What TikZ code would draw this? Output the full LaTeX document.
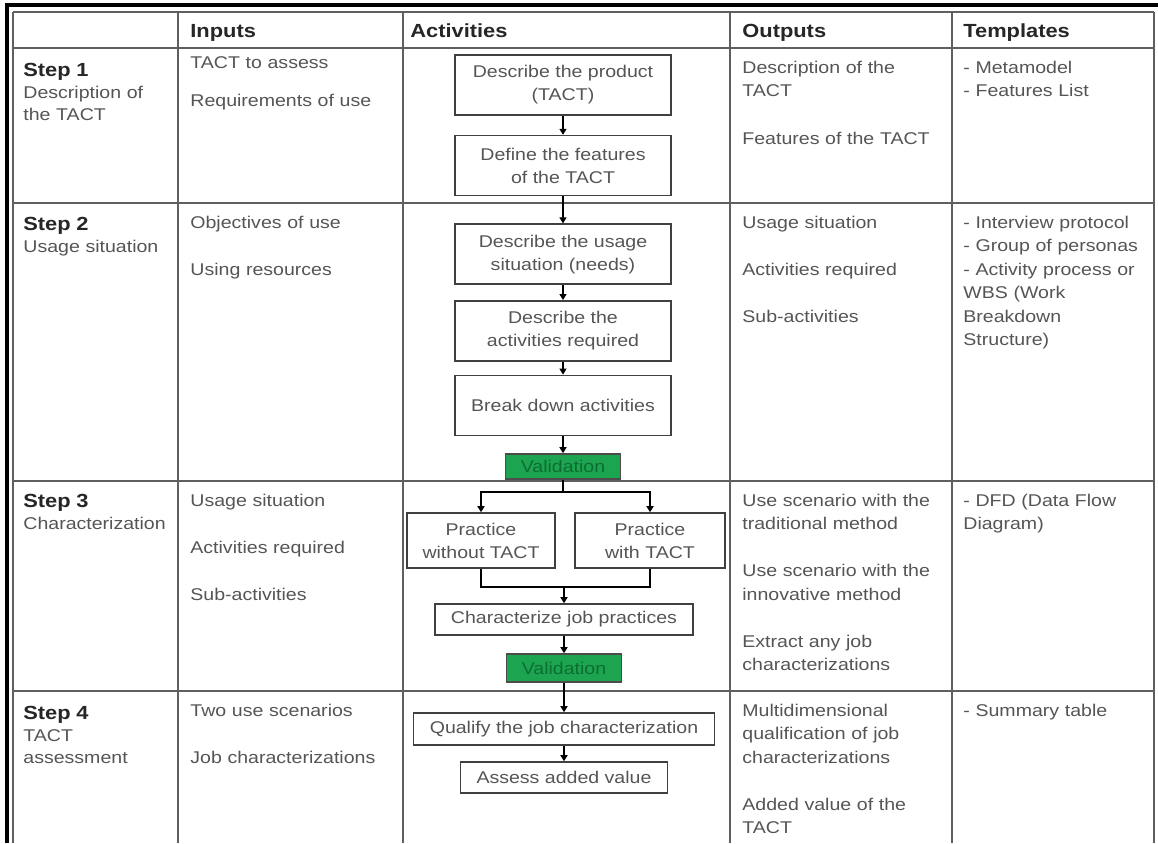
\documentclass[tikz,border=0pt]{standalone}
\usepackage{fontspec}
\setmainfont{Liberation Sans}[FakeStretch=1.15]
\usetikzlibrary{arrows.meta, positioning}

\definecolor{gridgray}{RGB}{95,95,95}
\definecolor{txtgray}{RGB}{85,85,85}
\definecolor{valgreen}{RGB}{28,164,80}
\definecolor{valtext}{RGB}{12,110,48}

\begin{document}
\begin{tikzpicture}[x=0.5pt, y=-0.5pt, node distance=9.5pt,
        grid/.style={gridgray, line width=1pt},
        frame/.style={black, line width=1.6pt},
        head/.style={anchor=base west, inner sep=0pt, text=black!85, font=\fontsize{9.5}{11}\selectfont\bfseries},
        steplbl/.style={anchor=base west, inner sep=0pt, text width=75pt, align=left, text=txtgray, font=\fontsize{8.5}{11}\selectfont},
        cell/.style={anchor=base west, inner sep=0pt, text width=110pt, align=left, text=txtgray, font=\fontsize{8.5}{11.75}\selectfont},
        actbox/.style={draw=black!75, line width=0.8pt, fill=white, text=txtgray, align=center, inner sep=2pt, minimum width=108pt, minimum height=30pt, font=\fontsize{8.5}{11.5}\selectfont},
        valbox/.style={draw=black!70, line width=0.8pt, fill=valgreen, text=valtext, inner sep=1pt, minimum width=57.5pt, font=\fontsize{8.5}{10}\selectfont},
        flow/.style={-{Triangle[length=3pt, width=3.5pt]}, line width=0.7pt},
        link/.style={line width=0.7pt}]

    \fill[white] (0,0) rectangle (1158,843);
    \useasboundingbox (0,0) rectangle (1158,843);

    % Table grid
    \foreach \x in {13,178,403,730,952,1154}
        \draw[grid] (\x,12) -- (\x,843);
    \foreach \y in {12,48,203,481,691}
        \draw[grid] (13,\y) -- (1154,\y);
    \draw[frame] (7,843) -- (7,5) -- (1158,5);

    % Header row
    \node[head] (hin) at (190,37) {Inputs};
    \node[head] (hact) at (410,37) {Activities};
    \node[head] (hout) at (742,37) {Outputs};
    \node[head] (htpl) at (963,37) {Templates};

    % Steps
    \node[steplbl] (step1) at (23,76) {{\fontsize{9.5}{11}\selectfont\bfseries\color{black!85}Step 1}\\Description of\\the TACT};
    \node[steplbl] (step2) at (23,230) {{\fontsize{9.5}{11}\selectfont\bfseries\color{black!85}Step 2}\\Usage situation};
    \node[steplbl] (step3) at (23,507) {{\fontsize{9.5}{11}\selectfont\bfseries\color{black!85}Step 3}\\Characterization};
    \node[steplbl] (step4) at (23,719) {{\fontsize{9.5}{11}\selectfont\bfseries\color{black!85}Step 4}\\TACT\\assessment};

    % Inputs
    \node[cell] (in1) at (190,68) {TACT to assess\\[7.25pt]Requirements of use};
    \node[cell] (in2) at (190,228) {Objectives of use\\[12pt]Using resources};
    \node[cell] (in3) at (190,506) {Usage situation\\[11.75pt]Activities required\\[11.75pt]Sub-activities};
    \node[cell] (in4) at (190,716) {Two use scenarios\\[12pt]Job characterizations};

    % Outputs
    \node[cell] (out1) at (742,73) {Description of the\\TACT\\[12pt]Features of the TACT};
    \node[cell] (out2) at (742,228) {Usage situation\\[12pt]Activities required\\[11.75pt]Sub-activities};
    \node[cell] (out3) at (742,506) {Use scenario with the\\traditional method\\[11.75pt]Use scenario with the\\innovative method\\[11.75pt]Extract any job\\characterizations};
    \node[cell] (out4) at (742,716) {Multidimensional\\qualification of job\\characterizations\\[11.75pt]Added value of the\\TACT};

    % Templates
    \node[cell] (tpl1) at (963,73) {- Metamodel\\- Features List};
    \node[cell] (tpl2) at (963,228) {- Interview protocol\\- Group of personas\\- Activity process or\\WBS (Work\\Breakdown\\Structure)};
    \node[cell] (tpl3) at (963,506) {- DFD (Data Flow\\Diagram)};
    \node[cell] (tpl4) at (963,716) {- Summary table};

    % Activities flow
    \node[actbox] (prod) at (563,85) {Describe the product\\(TACT)};
    \node[actbox, below=of prod] (feat) {Define the features\\of the TACT};
    \node[actbox, below=13.5pt of feat] (usage) {Describe the usage\\situation (needs)};
    \node[actbox, below=7.5pt of usage] (acts) {Describe the\\activities required};
    \node[actbox, below=6.5pt of acts] (brk) {Break down activities};
    \node[valbox, minimum height=12.5pt, below=8.5pt of brk] (val1) {Validation};

    \node[actbox, minimum width=74pt, minimum height=27.5pt] (pno) at (481,540.5) {Practice\\without TACT};
    \node[actbox, minimum width=75pt, minimum height=27.5pt] (pwith) at (650,540.5) {Practice\\with TACT};
    \node[actbox, minimum width=129pt, minimum height=15.5pt] (charz) at (564,619.5) {Characterize job practices};
    \node[valbox, minimum height=14pt] (val2) at (564,668) {Validation};
    \node[actbox, minimum width=150.5pt, minimum height=16pt] (qual) at (564,729) {Qualify the job characterization};
    \node[actbox, minimum width=103.5pt, minimum height=15.5pt] (assess) at (564,777.5) {Assess added value};

    \coordinate (split) at (563,492);
    \coordinate (merge) at (564,587);

    \draw[flow] (prod) -- (feat);
    \draw[flow] (feat) -- (usage);
    \draw[flow] (usage) -- (acts);
    \draw[flow] (acts) -- (brk);
    \draw[flow] (brk) -- (val1);
    \draw[link] (val1) -- (split);
    \draw[flow] (split) -| (pno);
    \draw[flow] (split) -| (pwith);
    \draw[link] (pno) |- (merge);
    \draw[link] (pwith) |- (merge);
    \draw[flow] (merge) -- (charz);
    \draw[flow] (charz) -- (val2);
    \draw[flow] (val2) -- (qual);
    \draw[flow] (qual) -- (assess);

\end{tikzpicture}
\end{document}
